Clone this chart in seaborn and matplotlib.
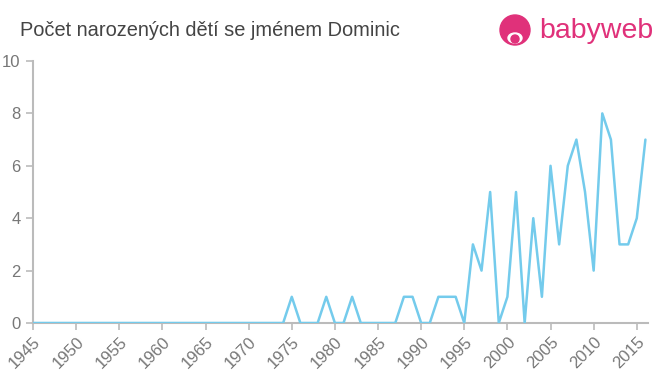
import matplotlib
matplotlib.use("Agg")
import matplotlib.pyplot as plt
import seaborn as sns
import pandas as pd
from matplotlib.patches import Circle, Ellipse

# --- data ---
years = list(range(1945, 2017))
counts_1945_1973 = [0] * 29
counts_1974_2016 = [0, 1, 0, 0, 0, 1, 0, 0, 1, 0, 0, 0, 0, 0, 1, 1, 0, 0, 1, 1, 1, 0,
                    3, 2, 5, 0, 1, 5, 0, 4, 1, 6, 3, 6, 7, 5, 2, 8, 7, 3, 3, 4, 7]
counts = counts_1945_1973 + counts_1974_2016
x_ticks = list(range(1945, 2016, 5))
y_ticks = [0, 2, 4, 6, 8, 10]

df = pd.DataFrame({"rok": years, "pocet": counts})

sns.set_theme(style="white")
plt.rcParams['font.family'] = ['Liberation Sans', 'DejaVu Sans']

fig = plt.figure(figsize=(6.6, 3.75), dpi=100)
ax = fig.add_axes([33 / 660, 1 - 323 / 375, 615 / 660, 262 / 375])

sns.lineplot(data=df, x="rok", y="pocet", ax=ax, color="#74cbec", linewidth=1.8, zorder=5)

ax.set_xlim(1945, 2016.3)
ax.set_ylim(0, 10)
ax.set_xticks(x_ticks)
ax.set_yticks(y_ticks)
ax.set_xticklabels([str(t) for t in x_ticks], rotation=45, ha="right", rotation_mode="anchor")
ax.tick_params(axis="both", colors="#bbbbbb", labelcolor="#777777", labelsize=12,
               length=5, width=1.2, bottom=True, left=True)
ax.tick_params(axis="y", pad=4)
ax.tick_params(axis="x", pad=3)
ax.set_xlabel("")
ax.set_ylabel("")
ax.grid(False)
for s in ["top", "right"]:
    ax.spines[s].set_visible(False)
for s in ["bottom", "left"]:
    ax.spines[s].set_color("#bbbbbb")
    ax.spines[s].set_linewidth(1.5)

fig.text(20 / 660, 1 - 31 / 375, "Počet narozených dětí se jménem Dominic",
         fontsize=14.4, color="#444444", va="center", ha="left")

# logo
pink = "#e0317a"
lax = fig.add_axes([495 / 660, 1 - 52 / 375, 165 / 660, 40 / 375])
lax.set_xlim(0, 165)
lax.set_ylim(0, 40)
lax.axis("off")
lax.add_patch(Circle((20, 22), 15, color=pink))
lax.add_patch(Ellipse((20, 14), 14, 10, color="white"))
lax.add_patch(Circle((20, 13), 4, color=pink))
lax.text(44, 21, "babyweb", fontsize=20.5, color=pink, va="center", ha="left")

fig.savefig("out.png", dpi=100)
